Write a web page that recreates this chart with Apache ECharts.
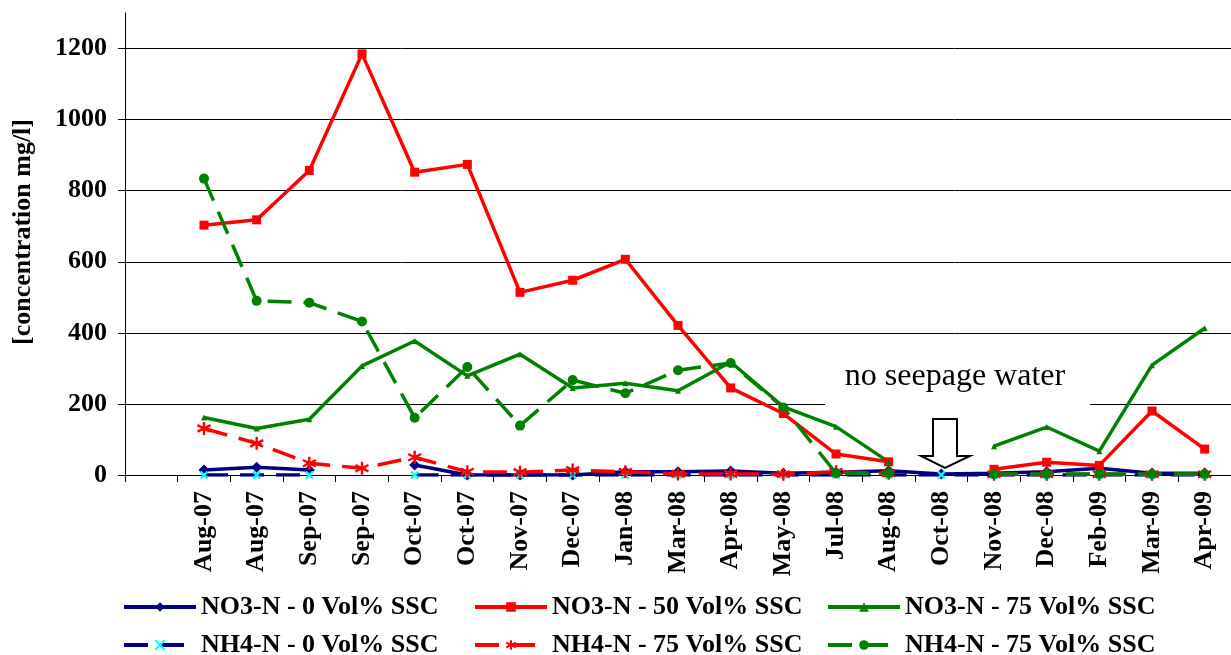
<!DOCTYPE html>
<html>
<head>
<meta charset="utf-8">
<script src="https://cdn.jsdelivr.net/npm/echarts@6/dist/echarts.min.js"></script>
<style>
  html, body { margin: 0; padding: 0; background: #fff; }
  #chart { width: 1231px; height: 655px; }
</style>
</head>
<body>
<div id="chart"></div>
<script>
// sampling dates (first band of the axis is left empty, as in the original)
const categories = ['Aug-07', 'Aug-07', 'Sep-07', 'Sep-07', 'Oct-07', 'Oct-07', 'Nov-07', 'Dec-07', 'Jan-08', 'Mar-08',
  'Apr-08', 'May-08', 'Jul-08', 'Aug-08', 'Oct-08', 'Nov-08', 'Dec-08', 'Feb-09', 'Mar-09', 'Apr-09']

const no3_0 = [14, 22, 14, null, 28, 0, 0, 0, 9, 9, 11, 5, 8, 12, 3, 5, 9, 19, 5, 5]
const no3_50 = [703, 718, 857, 1185, 852, 874, 514, 548, 607, 421, 245, 173, 59, 37, null, 16, 36, 27, 180, 73]
const no3_75 = [162, 131, 157, 307, 377, 279, 340, 245, 258, 237, 318, 192, 136, 37, null, 81, 135, 67, 309, 413]
const nh4_0 = [0, 0, 0, null, 0, 0, 0, 0, 0, 0, 0, 0, 0, 0, 0, 0, 0, 0, 0, 0]
const nh4_75red = [131, 89, 33, 19, 50, 9, 8, 14, 9, 3, 3, 2, 9, 5, null, 2, 2, 2, 2, 2]
const nh4_75green = [834, 490, 485, 432, 161, 304, 139, 267, 230, 295, 315, 190, 5, 5, null, 3, 3, 3, 3, 3]

const yTicks = [0, 200, 400, 600, 800, 1000, 1200]

const FONT = '"Liberation Serif", "Times New Roman", serif'
const asterisk = 'path://M0,-5L0,5M-4.3,-2.5L4.3,2.5M-4.3,2.5L4.3,-2.5'
const cross = 'path://M-4,-4L4,4M-4,4L4,-4'

const chart = echarts.init(document.getElementById('chart'))

const mkSeries = (name, data, color, dashed, symbol, size, stroke) => ({
  name,
  type: 'line',
  data: [null].concat(data),
  connectNulls: false,
  symbol,
  symbolSize: size,
  showSymbol: true,
  lineStyle: { color, width: 3.5, type: dashed ? [24, 12] : 'solid' },
  itemStyle: stroke
    ? { color: stroke, borderColor: stroke, borderWidth: 2.4 }
    : { color, borderColor: color, borderWidth: 0 }
})

const series = [
  mkSeries('NO3-N - 0 Vol% SSC', no3_0, '#000080', false, 'diamond', 11),
  mkSeries('NO3-N - 50 Vol% SSC', no3_50, '#ff0000', false, 'rect', 9),
  mkSeries('NO3-N - 75 Vol% SSC', no3_75, '#008000', false, 'triangle', 6),
  mkSeries('NH4-N - 0 Vol% SSC', nh4_0, '#000080', true, cross, 7, '#00ffff'),
  mkSeries('NH4-N - 75 Vol% SSC', nh4_75red, '#ff0000', true, asterisk, 13, '#ff0000'),
  mkSeries('NH4-N - 75 Vol% SSC ', nh4_75green, '#008000', true, 'circle', 10)
]

// one legend per entry so the six entries sit where they do in the original
const legendPos = [[117, 589], [468, 589], [821, 589], [117, 627], [468, 627], [821, 627]]
const legends = series.map((s, i) => ({
  data: [s.name],
  left: legendPos[i][0],
  top: legendPos[i][1],
  itemWidth: 72,
  itemHeight: 12,
  itemGap: 8,
  selectedMode: false,
  lineStyle: { width: 4 },
  formatter: name => name.trim(),
  textStyle: { fontFamily: FONT, fontWeight: 'bold', fontSize: 26, color: '#000' }
}))

chart.setOption({
  animation: false,
  backgroundColor: '#fff',
  grid: { left: 125, top: 13, height: 462, width: 1115 },
  legend: legends,
  xAxis: {
    type: 'category',
    data: [''].concat(categories),
    boundaryGap: true,
    axisLine: { lineStyle: { color: '#000', width: 1 } },
    axisTick: { show: true, interval: 0, length: 7, lineStyle: { color: '#000' } },
    axisLabel: {
      interval: 0,
      rotate: 90,
      margin: 16,
      fontFamily: FONT,
      fontWeight: 'bold',
      fontSize: 26,
      color: '#000'
    },
    splitLine: { show: false }
  },
  yAxis: {
    type: 'value',
    min: 0,
    max: 1300,
    interval: 200,
    axisLine: { show: true, lineStyle: { color: '#000', width: 1 } },
    axisTick: { show: true, length: 7, lineStyle: { color: '#000' }, customValues: yTicks },
    axisLabel: {
      margin: 18,
      customValues: yTicks,
      formatter: v => String(v),
      fontFamily: FONT,
      fontWeight: 'bold',
      fontSize: 26,
      color: '#000'
    },
    splitLine: { show: true, lineStyle: { color: '#000', width: 1 } }
  },
  graphic: [
    {
      type: 'text',
      x: 23,
      y: 232,
      rotation: Math.PI / 2,
      style: {
        text: '[concentration mg/l]',
        fontFamily: FONT,
        fontWeight: 'bold',
        fontSize: 26,
        fill: '#000',
        align: 'center',
        verticalAlign: 'middle'
      }
    },
    {
      type: 'rect',
      z: 1,
      shape: { x: 825, y: 352, width: 265, height: 57 },
      style: { fill: '#fff' }
    },
    {
      type: 'text',
      z: 1,
      x: 955,
      y: 377,
      style: {
        text: 'no seepage water',
        fontFamily: FONT,
        fontSize: 32,
        fill: '#000',
        align: 'center',
        verticalAlign: 'middle'
      }
    },
    {
      type: 'polygon',
      z: 10,
      shape: { points: [[933, 419], [957, 419], [957, 456], [970, 456], [945, 468], [921, 456], [933, 456]] },
      style: { fill: '#fff', stroke: '#000', lineWidth: 2 }
    }
  ],
  series
})
</script>
</body>
</html>
